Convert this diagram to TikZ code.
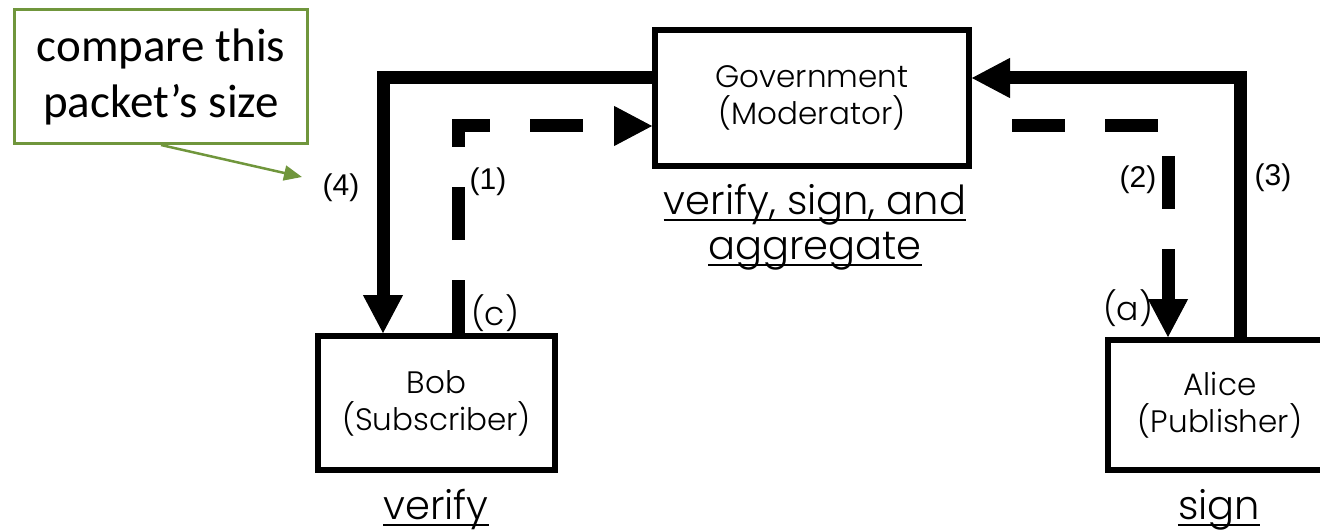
\documentclass[tikz,border=0pt]{standalone}
\usepackage{fontspec}
\setmainfont{Poppins Light}
\newfontfamily\calib{Carlito}
\newfontfamily\arialf{Liberation Sans}
\usetikzlibrary{arrows.meta}
\definecolor{notegreen}{RGB}{112,150,60}
\begin{document}
\begin{tikzpicture}[x=1pt,y=-1pt,
  box/.style={draw, line width=6pt, rectangle, inner sep=0pt, align=center,
    font=\fontsize{31}{37}\selectfont},
  flow/.style={line width=13pt, -{Triangle[length=38pt,width=40pt,line width=1pt]}},
  dflow/.style={flow, dash pattern=on 53pt off 40pt},
  num/.style={font=\arialf\fontsize{30}{32}\selectfont, inner sep=0pt},
  lett/.style={font=\fontsize{33}{36}\selectfont, inner sep=0pt},
  role/.style={font=\fontsize{40}{45}\selectfont, inner sep=0pt, anchor=base},
  uline/.style={line width=2.5pt},
  ]
\useasboundingbox (0,0) rectangle (1320,532);

% boxes
\node[box, minimum width=314pt, minimum height=136pt] (gov) at (812,98) {Government\\(Moderator)};
\node[box, minimum width=237pt, minimum height=134pt] (bob) at (436.5,403) {Bob\\(Subscriber)};
\node[box, minimum width=224pt, minimum height=130pt] (alice) at (1220,405) {Alice\\(Publisher)};

% role texts
\node[role] (r1) at (815,214) {verify, sign, and};
\node[role] (r2) at (815,259) {aggregate};
\node[role] (r3) at (436,519) {verify};
\node[role] (r4) at (1219,519) {sign};
\foreach \n in {r1,r2,r3,r4}
  \draw[uline] ([yshift=-6pt]\n.base west) -- ([yshift=-6pt]\n.base east);

% connectors
\draw[flow] ([yshift=20pt]gov.west) -| ([xshift=-53.5pt]bob.north);
\draw[dflow] ([xshift=21.5pt]bob.north) |- ([yshift=-28pt]gov.west);
\draw[dflow, dash phase=53pt] ([yshift=-28pt]gov.east) -| ([xshift=-52pt]alice.north);
\draw[flow] ([xshift=20pt]alice.north) |- ([yshift=20pt]gov.east);

% labels
\node[num] (l4) at (341,188) {(4)};
\node[num] (l1) at (488,182) {(1)};
\node[num] (l2) at (1138,180) {(2)};
\node[num] (l3) at (1273,178) {(3)};
\node[lett] (lc) at (495,313) {(c)};
\node[lett] (la) at (1128,308) {(a)};

% callout
\node[draw=notegreen, line width=3pt, minimum width=293pt, minimum height=134pt,
  inner sep=0pt, align=center, font=\calib\fontsize{47}{56}\selectfont]
  (note) at (161,76.5) {compare this\\packet’s size};
\coordinate (ptr) at (302,177);
\draw[notegreen, line width=2.5pt, -{Triangle[length=18pt,width=15pt]}] (note.south) -- (ptr);
\end{tikzpicture}
\end{document}
